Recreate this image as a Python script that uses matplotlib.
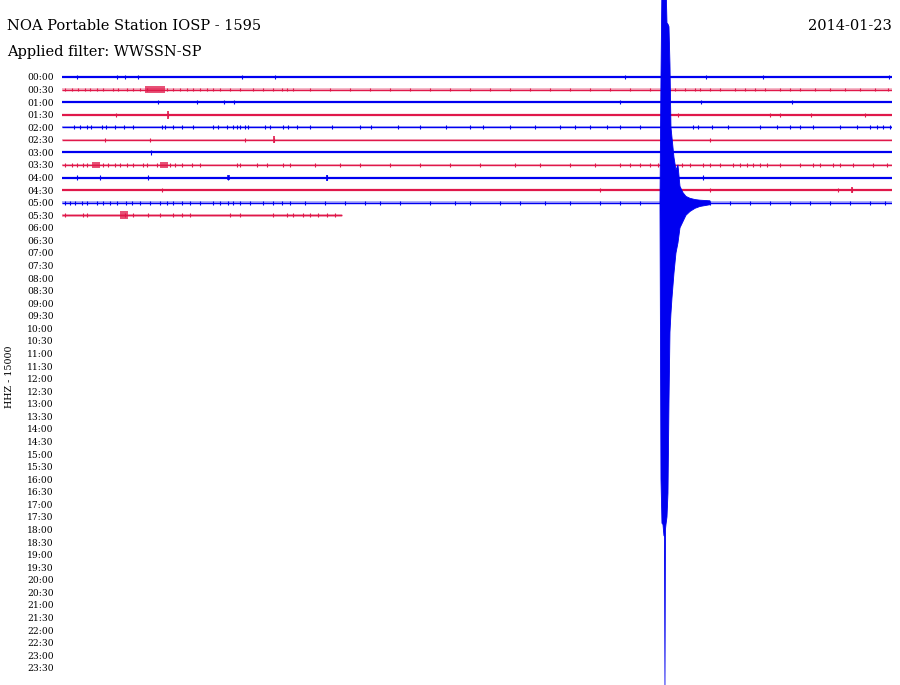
import matplotlib
matplotlib.use("Agg")
import matplotlib.pyplot as plt

# ---------------- data ----------------
title = "NOA Portable Station IOSP - 1595"
subtitle = "Applied filter: WWSSN-SP"
date_label = "2014-01-23"
channel_label = "HHZ - 15000"

line_labels = ["%02d:%02d" % (h, m) for h in range(24) for m in (0, 30)]
line_minutes = 30.0

# which lines carry data and where each ends (minutes)
trace_end = [30, 30, 30, 30, 30, 30, 30, 30, 30, 30, 30, 10.12]
# half-width of background noise band (in line-spacing units)
noise_level = [0.0, 0.14, 0.0, 0.0, 0.09, 0.05, 0.0, 0.10, 0.0, 0.0, 0.13, 0.12]

# bursts: (line, start min, end min, half amplitude)
bursts = [(1, 3.0, 3.72, 0.26), (7, 1.08, 1.37, 0.24), (7, 3.54, 3.83, 0.24),
          (8, 5.95, 6.08, 0.22), (11, 2.10, 2.39, 0.3)]

# isolated spikes per line: minutes and half amplitude
spikes_t = [
    [0.54, 1.99, 2.28, 2.75, 6.51, 7.70, 20.35, 23.28, 25.34, 29.89],
    [0.11, 0.36, 0.58, 0.83, 1.01, 1.27, 1.48, 1.84, 2.02, 2.35, 2.57, 2.82, 3.07, 3.79, 4.01,
     4.26, 4.52, 4.73, 4.99, 5.24, 5.46, 5.71, 6.07, 6.43, 6.90, 7.27, 7.63, 7.95, 8.13, 8.35,
     8.96, 9.69, 10.41, 11.13, 11.86, 12.58, 13.30, 14.02, 14.75, 15.47, 16.19, 16.92, 17.64,
     18.36, 19.09, 19.81, 20.53, 21.25, 22.15, 22.52, 22.88, 23.06, 23.42, 23.78, 24.33, 24.69,
     25.05, 25.41, 25.95, 26.31, 26.67, 27.22, 27.76, 28.30, 28.84, 29.38, 29.86],
    [3.47, 4.88, 5.85, 6.22, 20.17, 23.09, 26.38],
    [1.95, 3.83, 22.26, 25.59, 25.95, 27.07, 29.02],
    [0.43, 0.65, 0.90, 1.05, 1.45, 1.59, 1.92, 2.24, 2.57, 3.61, 3.72, 4.01, 4.34, 4.73, 5.46,
     5.64, 5.96, 6.18, 6.33, 6.43, 6.61, 6.72, 7.34, 7.52, 7.99, 8.17, 8.49, 8.96, 9.76, 10.77,
     11.17, 12.14, 12.94, 13.88, 14.75, 15.22, 16.19, 17.10, 18.00, 18.54, 19.09, 19.70, 20.17,
     20.89, 22.81, 22.99, 23.49, 24.07, 25.23, 25.84, 26.31, 26.67, 27.14, 28.12, 28.73, 29.20,
     29.46, 29.67, 29.93],
    [1.55, 3.18, 6.61, 7.66, 23.42],
    [3.22],
    [0.11, 0.36, 0.54, 0.76, 0.90, 1.48, 1.66, 1.92, 2.10, 2.35, 2.57, 2.93, 3.07, 3.43, 3.90,
     4.08, 4.34, 4.70, 4.99, 6.33, 6.43, 7.05, 7.41, 7.99, 8.24, 9.14, 10.05, 10.77, 11.86,
     12.94, 14.02, 15.11, 16.37, 17.28, 18.36, 19.27, 20.17, 20.53, 20.89, 21.25, 21.54, 22.41,
     22.70, 23.17, 23.42, 23.78, 24.25, 24.51, 24.76, 24.98, 25.23, 25.48, 25.95, 26.67, 27.14,
     27.40, 27.87, 28.12, 28.59, 29.31, 29.82],
    [0.54, 1.37, 3.11, 6.00, 9.58, 23.17],
    [3.61, 19.45, 23.42, 28.05, 28.55],
    [0.11, 0.29, 0.47, 0.72, 0.90, 1.27, 1.48, 1.73, 1.99, 2.31, 2.53, 2.82, 3.18, 3.54, 3.80,
     4.01, 4.34, 4.63, 4.99, 5.46, 5.71, 6.00, 6.18, 6.43, 6.80, 7.27, 7.63, 7.95, 8.24, 8.78,
     9.51, 10.23, 10.95, 11.49, 12.22, 13.30, 14.20, 14.75, 15.83, 16.55, 17.46, 18.36, 19.45,
     20.17, 20.89, 23.42, 24.14, 24.87, 25.59, 26.31, 27.04, 27.76, 28.48, 29.20, 29.75],
    [0.11, 0.76, 0.90, 2.28, 2.57, 3.11, 3.54, 4.01, 4.34, 4.63, 6.07, 6.43, 7.63, 8.13, 8.35,
     8.71, 8.96, 9.25, 9.58, 9.87],
]
spike_amp = [0.17, 0.15, 0.17, 0.17, 0.15, 0.17, 0.17, 0.16, 0.17, 0.17, 0.15, 0.17]
big_spikes = [(3, 3.83, 0.33), (5, 7.66, 0.28), (8, 9.58, 0.24), (9, 28.55, 0.24)]

# earthquake on the 05:00 line: minute, upward and downward envelope (line units)
eq_line = 10
eq_t = [21.614, 21.650, 21.686, 21.722, 21.758, 21.776, 21.794, 21.812, 21.831, 21.867,
        21.903, 21.939, 21.975, 22.011, 22.047, 22.120, 22.192, 22.264, 22.337, 22.445,
        22.554, 22.698, 22.879, 23.060, 23.422]
eq_up = [0.2, 10.0, 17.5, 17.5, 17.5, 17.5, 17.5, 17.5, 17.5, 14.3,
         14.2, 14.0, 11.0, 6.0, 5.2, 3.6, 2.6, 3.0, 1.3, 0.8,
         0.5, 0.35, 0.25, 0.2, 0.15]
eq_down = [0.2, 22.0, 25.5, 25.6, 26.5, 26.5, 38.6, 26.0, 25.6, 25.0,
           23.1, 15.9, 10.3, 8.8, 7.6, 5.6, 4.0, 3.2, 2.0, 1.5,
           1.0, 0.7, 0.45, 0.3, 0.16]

# ---------------- style ----------------
BLUE = "#0000f0"
RED = "#e0184a"

fig = plt.figure(figsize=(9.0, 6.85), dpi=100)
fig.patch.set_facecolor("white")
ax = fig.add_axes([62 / 900, 0.0, 830 / 900, 1.0])
ax.set_xlim(0, line_minutes)
ax.set_ylim(-48.37, 6.125)
ax.set_facecolor("none")

def base(i):
    return -i

for i, end in enumerate(trace_end):
    col = BLUE if i % 2 == 0 else RED
    b = base(i)
    nl = noise_level[i]
    if nl > 0:
        ax.fill_between([0, end], b - nl, b + nl, color=col, alpha=0.3, lw=0)
        ax.plot([0, end], [b, b], color=col, lw=1.0, solid_capstyle="butt")
    else:
        ax.plot([0, end], [b, b], color=col, lw=1.6, solid_capstyle="butt")
    a = spike_amp[i]
    ts = [t for t in spikes_t[i] if t <= end]
    ax.vlines(ts, b - a, b + a, color=col, lw=0.8)

for (i, t0, t1, a) in bursts:
    col = BLUE if i % 2 == 0 else RED
    ax.fill_between([t0, t1], base(i) - a, base(i) + a, color=col, alpha=0.75, lw=0)

for (i, t, a) in big_spikes:
    col = BLUE if i % 2 == 0 else RED
    ax.vlines([t], base(i) - a, base(i) + a, color=col, lw=1.2)

b = base(eq_line)
ax.fill_between(eq_t, [b - d for d in eq_down], [b + u for u in eq_up],
                color=BLUE, lw=0.6, edgecolor=BLUE, zorder=5)

ax.set_yticks([base(i) for i in range(len(line_labels))])
ax.set_yticklabels(line_labels, fontsize=6.6, family="DejaVu Serif")
ax.tick_params(axis="y", length=0, pad=6)
ax.set_xticks([])
for s in ax.spines.values():
    s.set_visible(False)

fig.text(7 / 900, 1 - 26 / 685, title, fontsize=10.5, family="DejaVu Serif",
         ha="left", va="center")
fig.text(7 / 900, 1 - 52 / 685, subtitle, fontsize=10.5, family="DejaVu Serif",
         ha="left", va="center")
fig.text(892 / 900, 1 - 26 / 685, date_label, fontsize=10.5, family="DejaVu Serif",
         ha="right", va="center")
fig.text(10 / 900, 1 - 377 / 685, channel_label, fontsize=6.8, family="DejaVu Serif",
         rotation=90, ha="center", va="center")

fig.savefig("out.png", dpi=100, facecolor="white")
